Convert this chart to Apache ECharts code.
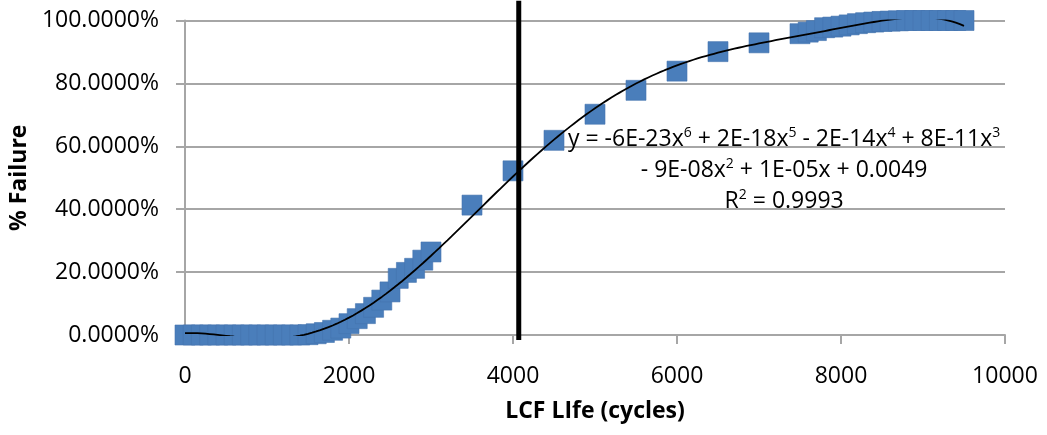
<!DOCTYPE html>
<html><head><meta charset="utf-8">
<script src="https://cdn.jsdelivr.net/npm/echarts@6/dist/echarts.min.js"></script>
<style>html,body{margin:0;padding:0;background:#fff}#c{width:1047px;height:435px}</style>
</head><body><div id="c"></div>
<script>
// ---- data ----
const cycles = [0,100,200,300,400,500,600,700,800,900,1000,1100,1200,1300,1400,
  1500,1600,1700,1800,1900,2000,2100,2200,2300,2400,2500,2600,2700,2800,2900,3000,
  3500,4000,4500,5000,5500,6000,6500,7000,
  7500,7600,7700,7800,7900,8000,8100,8200,8300,8400,8500,8600,8700,8800,8900,9000,9100,9200,9300,9400,9500];
const failurePct = [0,0,0,0,0,0,0,0,0,0,0,0,0,0,0,
  0.1,0.4,0.8,1.5,2.2,3.6,5.2,6.8,8.8,11.1,13.7,18.0,19.9,21.2,23.8,26.4,
  41.3,52.2,61.9,70.2,77.8,83.9,90.1,92.9,
  95.8,96.3,96.8,97.7,97.9,98.2,98.6,99.0,99.3,99.5,99.7,99.8,99.9,100,100,100,100,100,100,100,100];
const markerCycles = [4070, 4070];
const markerPct = [-1.6, 106.3];
const xTickValues = [0,2000,4000,6000,8000,10000];
const yTickValues = [0,20,40,60,80,100];
const equationLine1 = ['y = -6E-23x','6',' + 2E-18x','5',' - 2E-14x','4',' + 8E-11x','3'];
const equationLine2 = ['- 9E-08x','2',' + 1E-05x + 0.0049'];
const equationLine3 = ['R','2',' = 0.9993'];
const xTitle = 'LCF LIfe (cycles)';
const yTitle = '% Failure';

// ---- 6th order polynomial trendline (least squares, like the spreadsheet) ----
function polyfit(xs, ys, deg, scale) {
  const n = deg + 1;
  const A = Array.from({length:n}, () => new Array(n).fill(0));
  const b = new Array(n).fill(0);
  for (let k = 0; k < xs.length; k++) {
    const t = xs[k] / scale;
    const p = [];
    for (let i = 0; i < n; i++) p.push(Math.pow(t, i));
    for (let i = 0; i < n; i++) {
      b[i] += p[i] * ys[k];
      for (let j = 0; j < n; j++) A[i][j] += p[i] * p[j];
    }
  }
  for (let c = 0; c < n; c++) {
    let piv = c;
    for (let r = c + 1; r < n; r++) if (Math.abs(A[r][c]) > Math.abs(A[piv][c])) piv = r;
    [A[c], A[piv]] = [A[piv], A[c]]; [b[c], b[piv]] = [b[piv], b[c]];
    for (let r = c + 1; r < n; r++) {
      const f = A[r][c] / A[c][c];
      for (let j = c; j < n; j++) A[r][j] -= f * A[c][j];
      b[r] -= f * b[c];
    }
  }
  const coef = new Array(n).fill(0);
  for (let i = n - 1; i >= 0; i--) {
    let s = b[i];
    for (let j = i + 1; j < n; j++) s -= A[i][j] * coef[j];
    coef[i] = s / A[i][i];
  }
  return x => { const t = x / scale; let v = 0; for (let i = n - 1; i >= 0; i--) v = v * t + coef[i]; return v; };
}
const fit = polyfit(cycles, failurePct, 6, 10000);
const xmin = cycles[0], xmax = cycles[cycles.length - 1];
const trend = [];
for (let x = xmin; x <= xmax; x += 50) trend.push([x, fit(x)]);

function rich(parts) {
  return parts.map((p, i) => (i % 2 === 1 ? '{s|' + p + '}' : '{n|' + p + '}')).join('');
}

const FONT = 'Open Sans';
const gridColor = '#A6A6A6';
const chart = echarts.init(document.getElementById('c'));
chart.setOption({
  animation: false,
  backgroundColor: '#fff',
  grid: { left: 183, right: 42, top: 20.5, bottom: 100, containLabel: false },
  xAxis: {
    type: 'value', min: 0, max: 10000, interval: 2000,
    name: xTitle, nameLocation: 'middle', nameGap: 65,
    nameTextStyle: { fontFamily: FONT, fontWeight: 'bold', fontSize: 23, color: '#000' },
    axisLine: { show: true, lineStyle: { color: gridColor, width: 2 } },
    axisTick: { show: true, inside: false, length: 9, lineStyle: { color: gridColor, width: 2 } },
    axisLabel: { fontFamily: FONT, fontSize: 23, color: '#000', margin: 30,
      formatter: v => xTickValues.includes(v) ? String(v) : '' },
    splitLine: { show: false }
  },
  yAxis: {
    type: 'value', min: 0, max: 100, interval: 20,
    name: yTitle, nameLocation: 'middle', nameGap: 154, nameRotate: 90,
    nameTextStyle: { fontFamily: FONT, fontWeight: 'bold', fontSize: 23, color: '#000' },
    axisLine: { show: true, lineStyle: { color: gridColor, width: 2 } },
    axisTick: { show: true, inside: false, length: 9, lineStyle: { color: gridColor, width: 2 } },
    axisLabel: { fontFamily: FONT, fontSize: 23, color: '#000', margin: 26,
      formatter: v => yTickValues.includes(v) ? v.toFixed(4) + '%' : '' },
    splitLine: { show: true, lineStyle: { color: gridColor, width: 2 } }
  },
  series: [
    {
      type: 'scatter', symbol: 'rect', symbolSize: 20, z: 2,
      itemStyle: { color: '#4A7EBB', borderColor: '#4474AE', borderWidth: 0.6, opacity: 1 },
      data: cycles.map((c, i) => [c, failurePct[i]])
    },
    {
      type: 'line', showSymbol: false, symbol: 'none', z: 3, smooth: false,
      lineStyle: { color: '#000', width: 1.8 },
      data: trend
    },
    {
      type: 'line', showSymbol: false, symbol: 'none', z: 4, clip: false,
      lineStyle: { color: '#000', width: 5 },
      data: markerCycles.map((c, i) => [c, markerPct[i]])
    }
  ],
  graphic: [{
    type: 'text', left: 790 - 222, top: 124, z: 10,
    style: {
      text: rich(equationLine1) + '\n' + rich(equationLine2) + '\n' + rich(equationLine3),
      align: 'center', width: 444,
      rich: {
        n: { fontFamily: FONT, fontSize: 23, color: '#000', lineHeight: 31, align: 'center' },
        s: { fontFamily: FONT, fontSize: 14, color: '#000', lineHeight: 31, verticalAlign: 'top', padding: [2,0,0,0] }
      }
    }
  }]
});
</script>
</body></html>
